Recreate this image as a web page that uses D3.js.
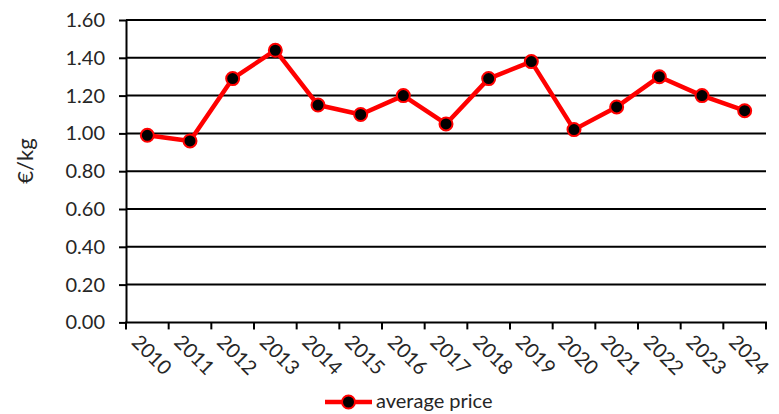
<!DOCTYPE html>
<html>
<head>
<meta charset="utf-8">
<script src="https://cdn.jsdelivr.net/npm/d3@7"></script>
<style>
  body { margin: 0; background: #fff; }
  text { font-family: Lato, "Open Sans", sans-serif; fill: #262626; }
</style>
</head>
<body>
<div id="container"></div>
<script>
const years = ["2010", "2011", "2012", "2013", "2014", "2015", "2016", "2017",
  "2018", "2019", "2020", "2021", "2022", "2023", "2024"];
const prices = [0.99, 0.96, 1.29, 1.44, 1.15, 1.10, 1.20, 1.05,
  1.29, 1.38, 1.02, 1.14, 1.30, 1.20, 1.12];
const yTicks = [0, 0.2, 0.4, 0.6, 0.8, 1.0, 1.2, 1.4, 1.6];
const seriesName = "average price";
const yTitle = "€/kg";

main();

function main() {
  const width = 779;
  const height = 414;
  const plot = { left: 126, right: 766, top: 20, bottom: 322.4 };
  const fontSize = 20;

  const svg = d3
    .select("#container")
    .append("svg")
    .attr("width", width)
    .attr("height", height);

  const scaleX = d3.scaleBand().domain(years).range([plot.left, plot.right]).padding(0);
  const scaleY = d3.scaleLinear().domain([0, 1.6]).range([plot.bottom, plot.top]);

  // gridlines
  svg
    .append("g")
    .classed("grid", true)
    .selectAll("line")
    .data(yTicks.filter((d) => d > 0))
    .join("line")
    .attr("x1", plot.left)
    .attr("x2", plot.right)
    .attr("y1", (d) => scaleY(d))
    .attr("y2", (d) => scaleY(d))
    .attr("stroke", "#000")
    .attr("stroke-width", 2);

  // y axis
  const axisY = svg
    .append("g")
    .attr("transform", `translate(${plot.left}, 0)`)
    .call(d3.axisLeft(scaleY).tickValues(yTicks).tickFormat(d3.format(".2f")).tickSize(7).tickSizeOuter(0).tickPadding(14));
  axisY.selectAll("path, line").attr("stroke", "#000").attr("stroke-width", 2);
  axisY.selectAll("text").attr("font-size", fontSize).attr("fill", "#262626")
    .style("font-family", "Lato, sans-serif");

  // x axis: ticks at category boundaries
  const axisX = svg.append("g").classed("axisX", true);
  axisX
    .append("line")
    .attr("x1", plot.left - 1)
    .attr("x2", plot.right + 1)
    .attr("y1", plot.bottom)
    .attr("y2", plot.bottom)
    .attr("stroke", "#000")
    .attr("stroke-width", 2);
  const boundaries = years.map((y) => scaleX(y)).concat([plot.right]);
  axisX
    .selectAll("line.tick")
    .data(boundaries)
    .join("line")
    .classed("tick", true)
    .attr("x1", (d) => d)
    .attr("x2", (d) => d)
    .attr("y1", plot.bottom)
    .attr("y2", plot.bottom + 7)
    .attr("stroke", "#000")
    .attr("stroke-width", 2);
  axisX
    .selectAll("text")
    .data(years)
    .join("text")
    .attr("transform", (d) => `translate(${scaleX(d) + scaleX.bandwidth() / 2 - 7}, ${plot.bottom + 11}) rotate(45)`)
    .attr("dy", "0.7em")
    .attr("font-size", fontSize)
    .text((d) => d);

  // y title
  svg
    .append("text")
    .attr("transform", `translate(33, 161) rotate(-90)`)
    .attr("text-anchor", "middle")
    .attr("font-size", 22)
    .text(yTitle);

  // series
  const cx = (d, i) => scaleX(years[i]) + scaleX.bandwidth() / 2;
  const line = d3.line().x(cx).y((d) => scaleY(d));
  svg
    .append("path")
    .datum(prices)
    .attr("fill", "none")
    .attr("stroke", "#ff0000")
    .attr("stroke-width", 4.5)
    .attr("stroke-linejoin", "round")
    .attr("d", line);
  svg
    .append("g")
    .selectAll("circle")
    .data(prices)
    .join("circle")
    .attr("cx", cx)
    .attr("cy", (d) => scaleY(d))
    .attr("r", 6.5)
    .attr("fill", "#000")
    .attr("stroke", "#ff0000")
    .attr("stroke-width", 2);

  // legend
  const legend = svg.append("g").attr("transform", "translate(325, 402)");
  legend.append("line").attr("x1", 0).attr("x2", 47).attr("y1", 0).attr("y2", 0)
    .attr("stroke", "#ff0000").attr("stroke-width", 4.5);
  legend.append("circle").attr("cx", 23.5).attr("cy", 0).attr("r", 6.5)
    .attr("fill", "#000").attr("stroke", "#ff0000").attr("stroke-width", 2);
  legend.append("text").attr("x", 51).attr("y", 0).attr("dy", "0.3em")
    .attr("font-size", 20).text(seriesName);
}
</script>
</body>
</html>
